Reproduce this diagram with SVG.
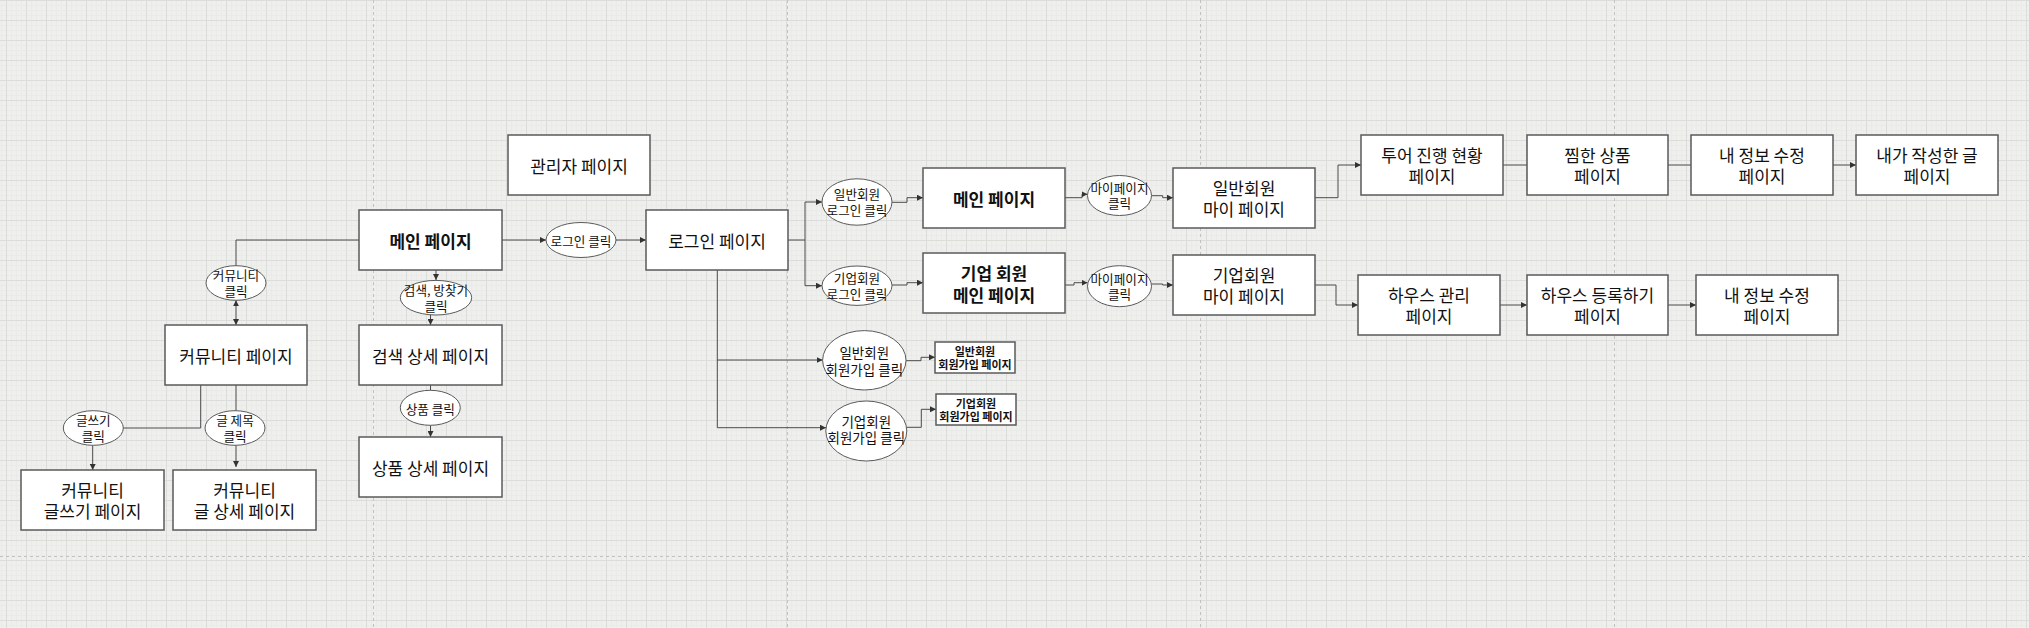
<svg xmlns="http://www.w3.org/2000/svg" width="2029" height="628" viewBox="0 0 2029 628">
<style>
.bx{fill:#fff;stroke:#5a5a5a;stroke-width:1.5}
.el{fill:#fff;stroke:#5a5a5a;stroke-width:1}
.t{font-family:"Noto Sans CJK KR","Noto Sans",sans-serif;font-size:17px;fill:#111;text-anchor:middle;dominant-baseline:central}
.b{font-weight:bold}
.s{font-size:12.6px}
.m{font-size:13.5px}
.xs{font-size:11px;font-weight:bold}
.ln{fill:none;stroke:#4a4a4a;stroke-width:1}
.ar{marker-end:url(#ah)}
.pb{stroke:#c2c2c2;stroke-width:1;stroke-dasharray:3 3;fill:none}
</style>
<defs>
<pattern id="grid" x="6" y="0" width="20" height="20" patternUnits="userSpaceOnUse">
<rect width="20" height="20" fill="#eff0ee"/>
<rect x="5" width="1" height="20" fill="#e9ebe8"/>
<rect x="10" width="1" height="20" fill="#e9ebe8"/>
<rect x="15" width="1" height="20" fill="#e9ebe8"/>
<rect y="5" width="20" height="1" fill="#e9ebe8"/>
<rect y="10" width="20" height="1" fill="#e9ebe8"/>
<rect y="15" width="20" height="1" fill="#e9ebe8"/>
<rect x="0" width="1" height="20" fill="#dbddda"/>
<rect y="0" width="20" height="1" fill="#dbddda"/>
</pattern>
<marker id="ah" viewBox="0 0 6 6" refX="6" refY="3" markerWidth="6" markerHeight="6" markerUnits="userSpaceOnUse" orient="auto-start-reverse">
<path d="M0,0 L6,3 L0,6 z" fill="#333"/>
</marker>
</defs>
<rect width="2029" height="628" fill="url(#grid)"/>
<g id="page-breaks">
<path class="pb" d="M373.5,0 V628 M787.5,0 V628 M1200.5,0 V628 M1614.5,0 V628 M0,556.5 H2029"/>
</g>
<g id="connectors">
<path class="ln ar" d="M502,240 H546"/>
<path class="ln ar" d="M616,240 H646"/>
<path class="ln ar" d="M436,270 V280"/>
<path class="ln ar" d="M430.5,315 V325"/>
<path class="ln" d="M430.5,385 V390.3"/>
<path class="ln ar" d="M430.5,425.3 V437"/>
<path class="ln" d="M359,240 H236 V265.7"/>
<path class="ln ar" style="marker-start:url(#ah)" d="M236,300.3 V325"/>
<path class="ln" d="M200.7,385 V428 H123.3"/>
<path class="ln ar" d="M92.7,445.3 V470"/>
<path class="ln" d="M236,385 V410.7"/>
<path class="ln ar" d="M236,445.3 V467"/>
<path class="ln" d="M788,240 H805 M805,202 V285.7"/>
<path class="ln ar" d="M805,202 H822"/>
<path class="ln ar" d="M805,285.7 H822"/>
<path class="ln ar" d="M892,202.3 H907 V197.7 H923"/>
<path class="ln ar" d="M892,285 H907 V282.7 H923"/>
<path class="ln ar" d="M1065,197.7 H1082 V194.3 H1087.5"/>
<path class="ln ar" d="M1065,285 H1074 V282.7 H1087.5"/>
<path class="ln ar" d="M1151,195.7 H1162.7 V197.7 H1173"/>
<path class="ln ar" d="M1151.5,284 H1162.7 V285 H1173"/>
<path class="ln ar" d="M1315,197.7 H1338 V165 H1361"/>
<path class="ln ar" d="M1315,285 H1336 V305 H1358"/>
<path class="ln" d="M1503,165 H1527"/>
<path class="ln" d="M1668,165 H1691"/>
<path class="ln ar" d="M1833,165 H1856"/>
<path class="ln ar" d="M1500,305 H1527"/>
<path class="ln ar" d="M1668,305 H1696"/>
<path class="ln" d="M717.3,270 V427.7"/>
<path class="ln ar" d="M717.3,360 H822.7"/>
<path class="ln ar" d="M717.3,427.7 H826"/>
<path class="ln ar" d="M906,360.7 H921 V357.3 H935"/>
<path class="ln ar" d="M906.7,427.3 H921.3 V409.3 H936"/>
</g>
<g id="main-page"><rect class="bx" x="359" y="210" width="143" height="60"/><text class="t b" x="430.5" y="240">메인 페이지</text></g>
<g id="admin-page"><rect class="bx" x="508" y="135" width="142" height="60"/><text class="t" x="579" y="165">관리자 페이지</text></g>
<g id="login-page"><rect class="bx" x="646" y="210" width="142" height="60"/><text class="t" x="717" y="240">로그인 페이지</text></g>
<g id="search-page"><rect class="bx" x="359" y="325" width="143" height="60"/><text class="t" x="430.5" y="355">검색 상세 페이지</text></g>
<g id="product-page"><rect class="bx" x="359" y="437" width="143" height="60"/><text class="t" x="430.5" y="467">상품 상세 페이지</text></g>
<g id="community-page"><rect class="bx" x="165" y="325" width="142" height="60"/><text class="t" x="236" y="355">커뮤니티 페이지</text></g>
<g id="write-page"><rect class="bx" x="21" y="470" width="143" height="60"/><text class="t" x="92.5" y="489">커뮤니티</text><text class="t" x="92.5" y="510.5">글쓰기 페이지</text></g>
<g id="post-detail-page"><rect class="bx" x="173" y="470" width="143" height="60"/><text class="t" x="244.5" y="489">커뮤니티</text><text class="t" x="244.5" y="510.5">글 상세 페이지</text></g>
<g id="general-main-page"><rect class="bx" x="923" y="168" width="142" height="60"/><text class="t b" x="994" y="198">메인 페이지</text></g>
<g id="corp-main-page"><rect class="bx" x="923" y="253" width="142" height="60"/><text class="t b" x="994" y="272.5">기업 회원</text><text class="t b" x="994" y="294">메인 페이지</text></g>
<g id="general-my-page"><rect class="bx" x="1173" y="168" width="142" height="60"/><text class="t" x="1244" y="187">일반회원</text><text class="t" x="1244" y="208.5">마이 페이지</text></g>
<g id="corp-my-page"><rect class="bx" x="1173" y="255" width="142" height="60"/><text class="t" x="1244" y="274">기업회원</text><text class="t" x="1244" y="295.5">마이 페이지</text></g>
<g id="tour-page"><rect class="bx" x="1361" y="135" width="142" height="60"/><text class="t" x="1432" y="154.5">투어 진행 현황</text><text class="t" x="1432" y="175.5">페이지</text></g>
<g id="wish-page"><rect class="bx" x="1527" y="135" width="141" height="60"/><text class="t" x="1597.5" y="154.5">찜한 상품</text><text class="t" x="1597.5" y="175.5">페이지</text></g>
<g id="info-page-1"><rect class="bx" x="1691" y="135" width="142" height="60"/><text class="t" x="1762" y="154.5">내 정보 수정</text><text class="t" x="1762" y="175.5">페이지</text></g>
<g id="my-posts-page"><rect class="bx" x="1856" y="135" width="142" height="60"/><text class="t" x="1927" y="154.5">내가 작성한 글</text><text class="t" x="1927" y="175.5">페이지</text></g>
<g id="house-manage-page"><rect class="bx" x="1358" y="275" width="142" height="60"/><text class="t" x="1429" y="294.5">하우스 관리</text><text class="t" x="1429" y="315.5">페이지</text></g>
<g id="house-register-page"><rect class="bx" x="1527" y="275" width="141" height="60"/><text class="t" x="1597.5" y="294.5">하우스 등록하기</text><text class="t" x="1597.5" y="315.5">페이지</text></g>
<g id="info-page-2"><rect class="bx" x="1696" y="275" width="142" height="60"/><text class="t" x="1767" y="294.5">내 정보 수정</text><text class="t" x="1767" y="315.5">페이지</text></g>
<g id="general-signup-page"><rect class="bx" x="935" y="342" width="80" height="31"/><text class="t xs" x="975" y="351">일반회원</text><text class="t xs" x="975" y="364">회원가입 페이지</text></g>
<g id="corp-signup-page"><rect class="bx" x="936" y="394" width="80" height="31"/><text class="t xs" x="976" y="403">기업회원</text><text class="t xs" x="976" y="416">회원가입 페이지</text></g>
<g id="login-click"><ellipse class="el" cx="581" cy="240" rx="35" ry="17.5"/><text class="t s" x="581" y="240">로그인 클릭</text></g>
<g id="search-click"><ellipse class="el" cx="436" cy="297.7" rx="35.7" ry="17.3"/><text class="t s" x="436" y="289.5">검색, 방찾기</text><text class="t s" x="436" y="305">클릭</text></g>
<g id="product-click"><ellipse class="el" cx="430.3" cy="407.8" rx="30" ry="17.5"/><text class="t s" x="430.3" y="408">상품 클릭</text></g>
<g id="community-click"><ellipse class="el" cx="236" cy="283" rx="30" ry="17.3"/><text class="t s" x="236" y="274.8">커뮤니티</text><text class="t s" x="236" y="290.3">클릭</text></g>
<g id="write-click"><ellipse class="el" cx="93.3" cy="428" rx="30" ry="17.3"/><text class="t s" x="93.3" y="419.8">글쓰기</text><text class="t s" x="93.3" y="435.3">클릭</text></g>
<g id="title-click"><ellipse class="el" cx="235" cy="428" rx="30" ry="17.3"/><text class="t s" x="235" y="419.8">글 제목</text><text class="t s" x="235" y="435.3">클릭</text></g>
<g id="general-login-click"><ellipse class="el" cx="857" cy="202" rx="35" ry="23.2"/><text class="t s" x="857" y="193.5">일반회원</text><text class="t s" x="857" y="209">로그인 클릭</text></g>
<g id="corp-login-click"><ellipse class="el" cx="857" cy="285.7" rx="35" ry="19.7"/><text class="t s" x="857" y="277.5">기업회원</text><text class="t s" x="857" y="293">로그인 클릭</text></g>
<g id="mypage-click-1"><ellipse class="el" cx="1119.5" cy="195.5" rx="32" ry="20"/><text class="t s" x="1119.5" y="187">마이페이지</text><text class="t s" x="1119.5" y="202.5">클릭</text></g>
<g id="mypage-click-2"><ellipse class="el" cx="1119.5" cy="286.2" rx="32" ry="20.5"/><text class="t s" x="1119.5" y="278">마이페이지</text><text class="t s" x="1119.5" y="293.5">클릭</text></g>
<g id="general-signup-click"><ellipse class="el" cx="864.3" cy="360.3" rx="41.7" ry="29.7"/><text class="t m" x="864.3" y="352">일반회원</text><text class="t m" x="864.3" y="368.5">회원가입 클릭</text></g>
<g id="corp-signup-click"><ellipse class="el" cx="866.3" cy="431" rx="40.5" ry="30"/><text class="t m" x="866.3" y="420.5">기업회원</text><text class="t m" x="866.3" y="437">회원가입 클릭</text></g>
</svg>
